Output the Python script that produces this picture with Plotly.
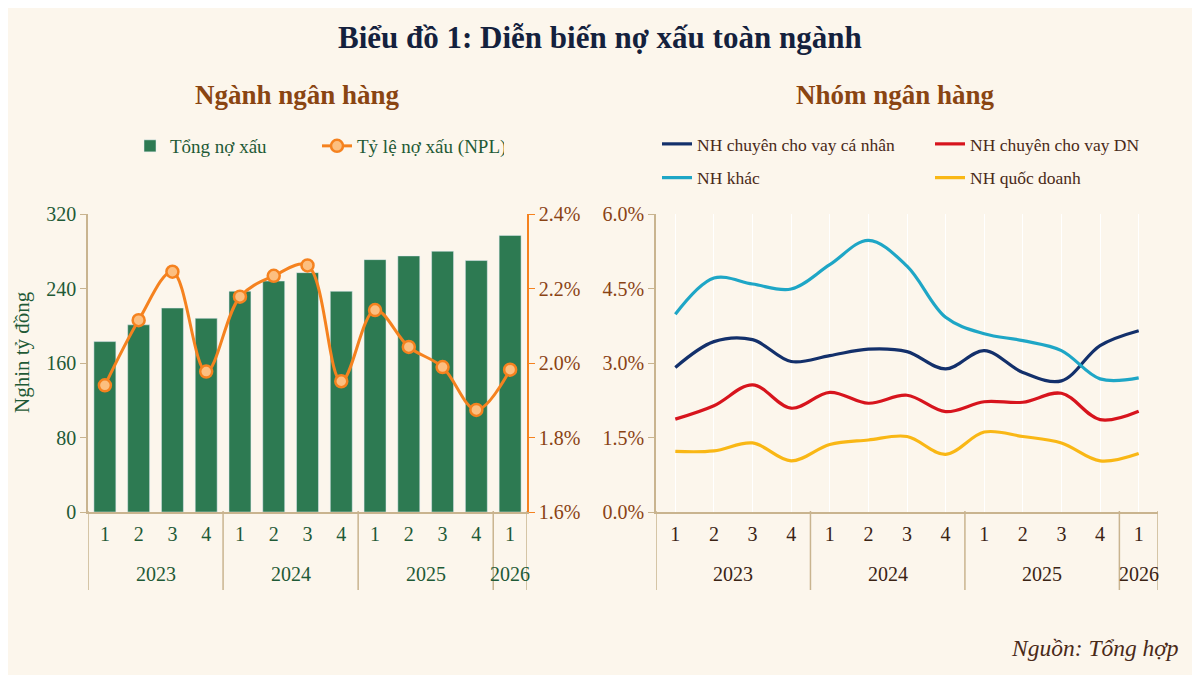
import plotly.graph_objects as go

# quarters / years on the category axis
years = ["2023"] * 4 + ["2024"] * 4 + ["2025"] * 4 + ["2026"]
quarters = ["1", "2", "3", "4"] * 3 + ["1"]

# left panel: whole banking sector
total_npl = [183, 201, 219, 208, 237, 248, 257, 237, 271, 275, 280, 270, 297]  # nghìn tỷ đồng
npl_ratio = [1.94, 2.115, 2.245, 1.977, 2.178, 2.234, 2.262, 1.951, 2.142, 2.043, 1.989, 1.874, 1.982]  # %

# right panel: bank groups, NPL ratio %
retail_banks = [2.91, 3.43, 3.47, 3.03, 3.15, 3.28, 3.23, 2.88, 3.25, 2.81, 2.64, 3.35, 3.65]
corporate_banks = [1.87, 2.14, 2.56, 2.09, 2.41, 2.19, 2.35, 2.02, 2.22, 2.21, 2.39, 1.86, 2.03]
other_banks = [3.98, 4.71, 4.59, 4.49, 4.98, 5.47, 4.95, 3.92, 3.59, 3.45, 3.25, 2.68, 2.70]
state_banks = [1.22, 1.23, 1.39, 1.03, 1.36, 1.45, 1.52, 1.16, 1.61, 1.52, 1.39, 1.03, 1.18]

FONT = "Liberation Serif"
BG = "#fcf6ec"
TAN = "#c9b48f"
GREEN = "#2d7a52"
ORANGE = "#f5821f"
BROWN = "#8a4314"
W, H = 1200, 675


# page has an 8px body margin, so place things in screen pixels
def px(x):
    return (x - 8) / W


def py(y):
    return 1 - (y - 8) / H


ids = [f"{y}-{q}" for y, q in zip(years, quarters)]

fig = go.Figure()

fig.add_trace(go.Bar(
    x=ids, y=total_npl, name="Tổng nợ xấu", marker_color=GREEN,
    xaxis="x", yaxis="y", legend="legend",
))
fig.add_trace(go.Scatter(
    x=ids, y=npl_ratio, name="Tỷ lệ nợ xấu (NPL)", mode="lines+markers",
    line=dict(color=ORANGE, width=3, shape="spline"),
    marker=dict(size=12, color="#fcbf80", line=dict(color=ORANGE, width=2.5)),
    xaxis="x", yaxis="y2", legend="legend",
))

groups = [
    ("NH chuyên cho vay cá nhân", retail_banks, "#13306b", "legend2"),
    ("NH khác", other_banks, "#1ea6c6", "legend2"),
    ("NH chuyên cho vay DN", corporate_banks, "#d7141d", "legend3"),
    ("NH quốc doanh", state_banks, "#f9b715", "legend3"),
]
for name, vals, color, leg in groups:
    fig.add_trace(go.Scatter(
        x=ids, y=vals, name=name, mode="lines", legendgroup=name,
        line=dict(color=color, width=3.2, shape="spline"),
        xaxis="x2", yaxis="y3", legend=leg,
    ))

ydom = [py(512), py(214)]
tick_font = dict(family=FONT, size=20)

xaxis_common = dict(
    type="category", showline=True, linecolor=TAN, linewidth=1.5,
    tickvals=ids, ticktext=quarters, ticks="", ticklabelstandoff=3,
    range=[-0.5, len(ids) - 0.5], automargin=False, fixedrange=True,
)
yaxis_common = dict(
    showgrid=False, zeroline=False, showline=True, linewidth=1.5,
    ticks="outside", ticklen=6, automargin=False, fixedrange=True,
)

leg_common = dict(
    bgcolor="rgba(0,0,0,0)", xanchor="left", yanchor="top",
    font=dict(family=FONT, size=17.5, color="#4a2a18"), itemclick=False,
)

fig.update_layout(
    width=W, height=H, autosize=False,
    paper_bgcolor=BG, plot_bgcolor=BG,
    margin=dict(l=0, r=0, t=0, b=0),
    bargap=0.35,
    xaxis=dict(domain=[px(88), px(527)], anchor="y",
               tickfont=dict(tick_font, color="#1f5a36"), **xaxis_common),
    yaxis=dict(domain=ydom, range=[0, 320], dtick=80, linecolor=TAN, tickcolor=TAN,
               tickfont=dict(tick_font, color="#1f5a36"), **yaxis_common),
    yaxis2=dict(overlaying="y", side="right", anchor="x", range=[1.6, 2.4], dtick=0.2,
                tickformat=".1f", ticksuffix="%", linecolor=ORANGE, tickcolor=ORANGE,
                tickfont=dict(tick_font, color=BROWN), **yaxis_common),
    xaxis2=dict(domain=[px(656), px(1158)], anchor="y3",
                tickfont=dict(tick_font, color="#3b2314"), **xaxis_common),
    yaxis3=dict(domain=ydom, anchor="x2", range=[0, 6], dtick=1.5, tickformat=".1f",
                ticksuffix="%", linecolor=TAN, tickcolor=TAN,
                tickfont=dict(tick_font, color=BROWN), **yaxis_common),
    legend=dict(leg_common, orientation="h", x=px(130), y=py(127), entrywidth=142,
                font=dict(family=FONT, size=19, color="#1f5a36")),
    legend2=dict(leg_common, orientation="v", x=px(657), y=py(126), tracegroupgap=8),
    legend3=dict(leg_common, orientation="v", x=px(930), y=py(126), tracegroupgap=8),
    showlegend=True,
)

# group dividers and year labels under the quarter labels
bounds = [-0.5] + [i + 0.5 for i in range(len(years) - 1) if years[i] != years[i + 1]] + [len(years) - 0.5]
for xref, color in [("x", "#1f5a36"), ("x2", "#3b2314")]:
    for b in bounds:
        fig.add_shape(type="line", xref=xref, yref="paper", x0=b, x1=b, y0=py(511), y1=py(590),
                      line=dict(color=TAN, width=1.5))
    for yr in dict.fromkeys(years):
        pos = [i for i, v in enumerate(years) if v == yr]
        fig.add_annotation(text=yr, xref=xref, yref="paper", x=sum(pos) / len(pos), y=py(574),
                           xanchor="center", yanchor="middle", showarrow=False,
                           font=dict(family=FONT, size=20, color=color))

fig.add_annotation(text="<b>Biểu đồ 1: Diễn biến nợ xấu toàn ngành</b>",
                   x=px(600), y=py(38), xref="paper", yref="paper", showarrow=False,
                   xanchor="center", yanchor="middle",
                   font=dict(family=FONT, size=31, color="#14213d"))
fig.add_annotation(text="<b>Ngành ngân hàng</b>",
                   x=px(297), y=py(95), xref="paper", yref="paper", showarrow=False,
                   xanchor="center", yanchor="middle",
                   font=dict(family=FONT, size=27, color="#8a4512"))
fig.add_annotation(text="<b>Nhóm ngân hàng</b>",
                   x=px(895), y=py(95), xref="paper", yref="paper", showarrow=False,
                   xanchor="center", yanchor="middle",
                   font=dict(family=FONT, size=27, color="#8a4512"))
fig.add_annotation(text="Nghin tỷ đồng", textangle=-90,
                   x=px(22), y=py(352), xref="paper", yref="paper", showarrow=False,
                   xanchor="center", yanchor="middle",
                   font=dict(family=FONT, size=21, color="#1f5a36"))
fig.add_annotation(text="<i>Nguồn: Tổng hợp</i>",
                   x=px(1181), y=py(648), xref="paper", yref="paper", showarrow=False,
                   xanchor="right", yanchor="middle",
                   font=dict(family=FONT, size=23.5, color="#4a2a18"))

fig.write_html("out.html")
